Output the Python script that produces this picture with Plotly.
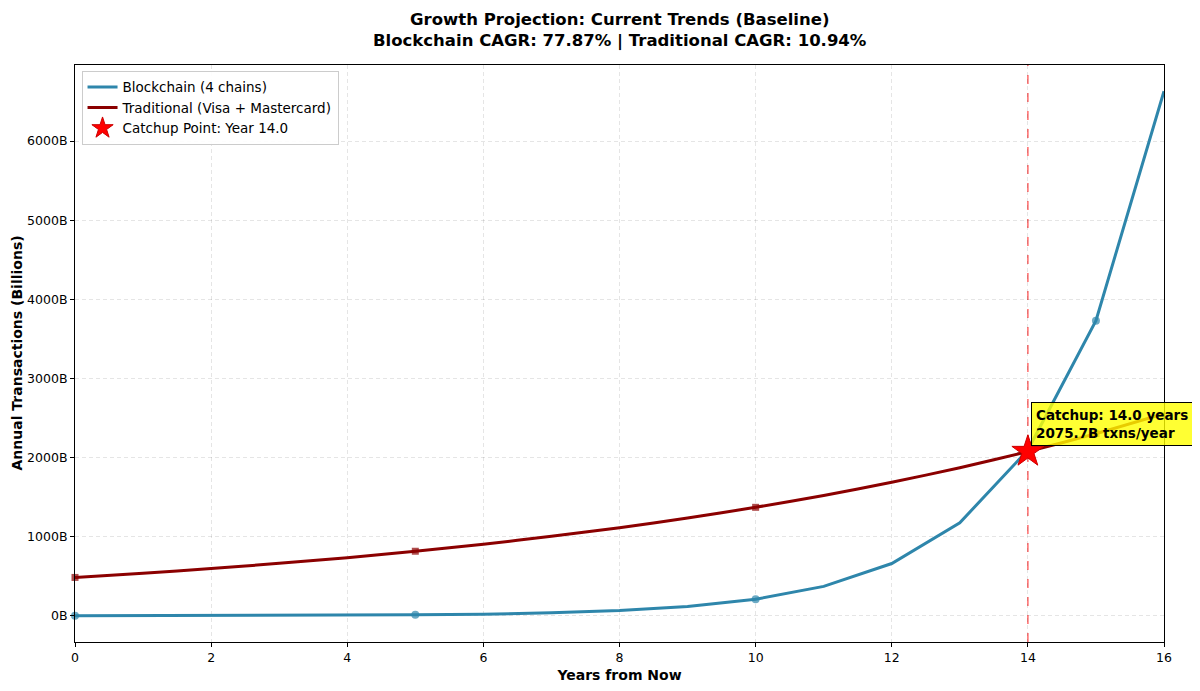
import plotly.graph_objects as go

# data (billions of transactions per year)
years = list(range(0, 17))
blockchain = [0.66, 1.2, 2.1, 3.7, 6.6, 11.8, 20.9, 37.2, 66.1, 117.6, 209, 372,
              661, 1176, 2095, 3730, 6630]
traditional = [485, 538, 597, 663, 735, 816, 905, 1004, 1114, 1236, 1371, 1521,
               1687, 1872, 2076, 2303, 2555]
marker_every = 5
catchup_year = 14.0
catchup_value = 2075.7
y_ticks = [0, 1000, 2000, 3000, 4000, 5000, 6000]
y_labels = [f"{v}B" for v in y_ticks]
title_lines = [
    "Growth Projection: Current Trends (Baseline)",
    "Blockchain CAGR: 77.87% | Traditional CAGR: 10.94%",
]

FONT = "DejaVu Sans"

fig = go.Figure()

fig.add_trace(
    go.Scatter(
        x=years,
        y=blockchain,
        mode="lines+markers",
        name="Blockchain (4 chains)",
        line=dict(color="#2E86AB", width=3),
        marker=dict(
            symbol="circle",
            size=[8 if i % marker_every == 0 else 0 for i in range(len(years))],
            color="#2E86AB",
            line=dict(width=0),
        ),
        cliponaxis=False,
    )
)

fig.add_trace(
    go.Scatter(
        x=years,
        y=traditional,
        mode="lines+markers",
        name="Traditional (Visa + Mastercard)",
        line=dict(color="#8B0000", width=3, shape="spline", smoothing=0.6),
        marker=dict(
            symbol="square",
            size=[7 if i % marker_every == 0 else 0 for i in range(len(years))],
            color="#8B0000",
            line=dict(width=0),
        ),
        cliponaxis=False,
    )
)

fig.add_trace(
    go.Scatter(
        x=[catchup_year],
        y=[catchup_value],
        mode="markers",
        name=f"Catchup Point: Year {catchup_year}",
        marker=dict(symbol="star", size=24, color="red", line=dict(color="#cc0000", width=1)),
        cliponaxis=False,
    )
)

# dashed vertical line at the catchup year
fig.add_shape(
    type="line",
    xref="x",
    yref="paper",
    x0=catchup_year,
    x1=catchup_year,
    y0=0,
    y1=1,
    line=dict(color="rgba(255,0,0,0.55)", width=1.6, dash="dash"),
    layer="below",
)

fig.add_annotation(
    x=14.05,
    y=2420,
    xref="x",
    yref="y",
    xanchor="left",
    yanchor="middle",
    align="left",
    text=f"<b>Catchup: {catchup_year} years<br>{catchup_value}B txns/year</b>",
    showarrow=False,
    font=dict(family=FONT, size=13.5, color="black"),
    bgcolor="rgba(255,255,0,0.8)",
    bordercolor="black",
    borderwidth=1,
    borderpad=4,
)

# bold title, one annotation per line
for line_text, shift in zip(title_lines, [46, 24]):
    fig.add_annotation(
        x=0.5,
        y=1,
        xref="paper",
        yref="paper",
        xanchor="center",
        yanchor="middle",
        yshift=shift,
        showarrow=False,
        text=f"<b>{line_text}</b>",
        font=dict(family=FONT, size=16.5, color="black"),
    )

# y axis title placed by hand so the plot area keeps its width
fig.add_annotation(
    x=0,
    y=0.5,
    xref="paper",
    yref="paper",
    xanchor="center",
    yanchor="middle",
    xshift=-59,
    textangle=-90,
    showarrow=False,
    text="<b>Annual Transactions (Billions)</b>",
    font=dict(family=FONT, size=14, color="black"),
)

fig.update_layout(
    width=1200,
    height=691,
    paper_bgcolor="white",
    plot_bgcolor="white",
    margin=dict(l=67, r=44, t=57, b=57),
    font=dict(family=FONT, size=12, color="black"),
    legend=dict(
        x=0.006,
        y=0.99,
        xanchor="left",
        yanchor="top",
        bgcolor="rgba(255,255,255,0.9)",
        bordercolor="#cccccc",
        borderwidth=1,
        font=dict(family=FONT, size=13.5),
        tracegroupgap=0,
    ),
    showlegend=True,
)

fig.update_xaxes(
    range=[0, 16],
    tickvals=[0, 2, 4, 6, 8, 10, 12, 14, 16],
    title=dict(text="<b>Years from Now</b>", font=dict(family=FONT, size=14), standoff=6),
    automargin=False,
    showline=True,
    linecolor="black",
    linewidth=1,
    mirror=True,
    ticks="outside",
    ticklen=4,
    tickcolor="black",
    showgrid=True,
    gridcolor="rgba(0,0,0,0.1)",
    griddash="4px,3px",
    zeroline=False,
    tickfont=dict(size=12.5),
)

fig.update_yaxes(
    range=[-331, 6961],
    tickvals=y_ticks,
    ticktext=y_labels,
    automargin=False,
    showline=True,
    linecolor="black",
    linewidth=1,
    mirror=True,
    ticks="outside",
    ticklen=4,
    tickcolor="black",
    showgrid=True,
    gridcolor="rgba(0,0,0,0.1)",
    griddash="4px,3px",
    zeroline=False,
    tickfont=dict(size=12.5),
)

fig.write_html("out.html")
